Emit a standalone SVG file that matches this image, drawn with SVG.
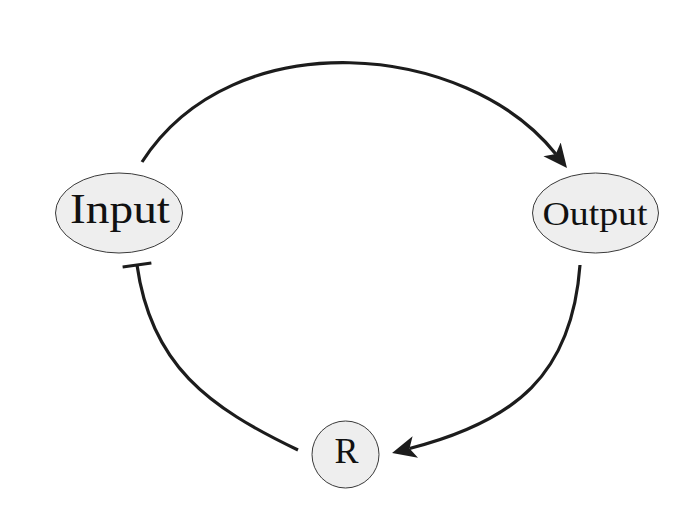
<svg xmlns="http://www.w3.org/2000/svg" width="690" height="505" viewBox="0 0 690 505">
<style>
.node{fill:#eeeeee;stroke:#3a3a3a;stroke-width:1}
.lbl{font-family:"Liberation Serif","Times New Roman",serif;fill:#111;text-anchor:middle}
.edge{fill:none;stroke:#1c1c1c;stroke-width:3.2}
</style>
<defs>
<marker id="arrow" markerUnits="userSpaceOnUse" viewBox="0 -12 26 24" markerWidth="26" markerHeight="24" refX="6" refY="0" orient="auto">
<path d="M0,-11 L24,0 L0,11 L6,0 z" fill="#1c1c1c"/>
</marker>
<marker id="tee" markerUnits="userSpaceOnUse" viewBox="-3 -16 6 32" markerWidth="6" markerHeight="32" refX="0" refY="0" orient="auto">
<path d="M0,-14.5 L0,14.5" stroke="#1c1c1c" stroke-width="3"/>
</marker>
</defs>
<rect width="690" height="505" fill="#ffffff"/>
<g id="connectors">
<path class="edge" d="M142,162 C233,20 467,42 555.8,154" marker-end="url(#arrow)"/>
<path class="edge" d="M580,265 C572,375 515,421.5 409.5,448.5" marker-end="url(#arrow)"/>
<path class="edge" d="M298,450 C208,407 151,365 137,265" marker-end="url(#tee)"/>
</g>
<g id="node-input">
<ellipse class="node" cx="119" cy="213" rx="63.5" ry="40"/>
<text class="lbl" x="120" y="223" font-size="42" textLength="100" lengthAdjust="spacingAndGlyphs">Input</text>
</g>
<g id="node-output">
<ellipse class="node" cx="595.5" cy="213" rx="63" ry="40"/>
<text class="lbl" x="595" y="225" font-size="33" textLength="105" lengthAdjust="spacingAndGlyphs">Output</text>
</g>
<g id="node-r">
<circle class="node" cx="345.5" cy="454.5" r="33.5"/>
<text class="lbl" x="346.5" y="463" font-size="36">R</text>
</g>
</svg>
